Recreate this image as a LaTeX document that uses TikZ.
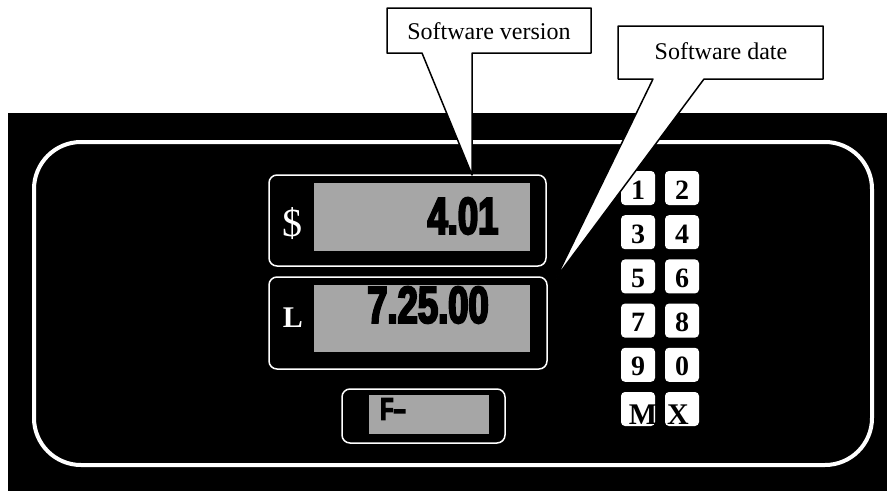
\documentclass[tikz,border=0pt]{standalone}
\usepackage{fontspec}
\setmainfont{Liberation Serif}
\newfontfamily\lcdfont[FakeStretch=0.7,FakeBold=4]{Liberation Sans Bold}
\tikzset{
	panelline/.style={draw=white, line width=4pt, rounded corners=47pt},
	lcdframe/.style={draw=white, line width=1.5pt, rounded corners=8pt},
	lcdglass/.style={fill=black!35},
	lcdtext/.style={font=\lcdfont\fontsize{52}{52}\selectfont, inner sep=0pt},
	keycap/.style={fill=white, rounded corners=4pt, minimum size=34pt, inner sep=0pt},
	keylabel/.style={font=\fontsize{28}{28}\selectfont\bfseries, inner sep=0pt},
	callout/.style={draw=black, fill=white, line width=1.5pt, line join=round},
	calltext/.style={font=\fontsize{24}{24}\selectfont, inner sep=0pt}
}

\begin{document}
\begin{tikzpicture}[x=1pt, y=-1pt]
			%%%%% START %%%%%
			\useasboundingbox (0, 0) rectangle (887, 491);
			
			\fill[black] (8, 113) rectangle (887, 491);
			\draw[panelline] (34, 142) rectangle (872, 465);
			
			% price display
			\draw[lcdframe] (269, 175) rectangle (546, 266);
			\fill[lcdglass] (314, 183) rectangle (530, 251);
			\node[text=white, font=\fontsize{40}{40}\selectfont, inner sep=0pt] (dollar) at (292, 224) {\$};
			\node[lcdtext] (price) at (463, 216) {4.01};
			
			% volume display
			\draw[lcdframe] (269, 277) rectangle (547, 369);
			\fill[lcdglass] (314, 285) rectangle (530, 352);
			\node[text=white, font=\fontsize{30}{30}\selectfont\bfseries, inner sep=0pt] (litre) at (293, 318) {L};
			\node[lcdtext] (volume) at (428, 305) {7.25.00};
			
			% function display
			\draw[lcdframe] (342, 389) rectangle (505, 443);
			\fill[lcdglass] (369, 395) rectangle (489, 434);
			\node[lcdtext, font=\lcdfont\fontsize{31}{31}\selectfont] (fcode) at (393, 409) {F–};
			
			% keypad
			\foreach \lab [count=\n from 0] in {1,2,3,4,5,6,7,8,9,0,M,X} {
				\pgfmathtruncatemacro\col{mod(\n,2)}
				\pgfmathtruncatemacro\row{\n/2}
				\node[keycap] (key\lab) at ({638+44*\col}, {188+44.2*\row}) {};
			}
			\foreach \lab in {1,2,3,4,5,6,7,8,9,0}
				\node[keylabel] at ([yshift=-2pt]key\lab.center) {\lab};
			\node[keylabel, font=\fontsize{30}{30}\selectfont\bfseries] at ([xshift=5pt, yshift=-6pt]keyM.center) {M};
			\node[keylabel, font=\fontsize{30}{30}\selectfont\bfseries] at ([xshift=-4pt, yshift=-6pt]keyX.center) {X};
			
			% callouts
			\coordinate (versiontip) at (472, 175);
			\coordinate (datetip) at (556, 278);
			\draw[callout] (387, 8) -- (591, 8) -- (591, 53) -- (472, 53) -- (versiontip) -- (422, 53) -- (387, 53) -- cycle;
			\node[calltext] (version) at (489, 31) {Software version};
			\draw[callout] (618, 26) -- (823, 26) -- (823, 79) -- (704, 79) -- (datetip) -- (653, 79) -- (618, 79) -- cycle;
			\node[calltext] (date) at (721, 51) {Software date};
			
			%%%%% END %%%%%
\end{tikzpicture}
\end{document}
